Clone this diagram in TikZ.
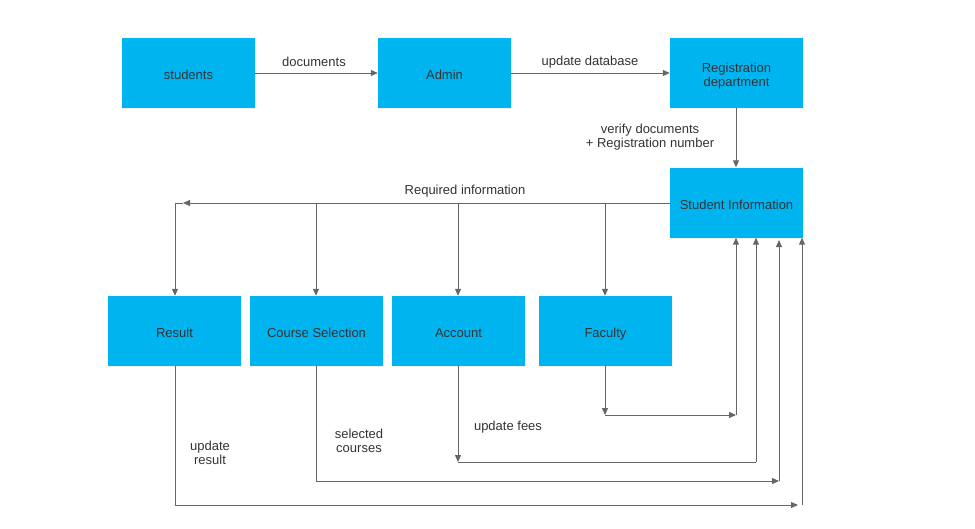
\documentclass[tikz,border=0pt]{standalone}
\usepackage{fontspec}
\setmainfont{Liberation Sans}
\usetikzlibrary{arrows.meta,shadows}
\definecolor{boxblue}{RGB}{0,180,240}
\definecolor{linegray}{RGB}{102,102,102}
\definecolor{txtgray}{RGB}{51,51,51}
\begin{document}
\begin{tikzpicture}[x=1pt,y=-1pt,
  lbl/.style={text=txtgray,font=\fontsize{13}{14.5}\selectfont,align=center,inner sep=0pt},
  box/.style={fill=boxblue,minimum width=133pt,minimum height=70pt,inner sep=0pt,
    drop shadow={shadow xshift=1pt,shadow yshift=-1pt,opacity=0.12},
    label={[lbl,yshift=-3.3pt]center:{\vphantom{Ay}#1}}},
  conn/.style={draw=linegray,line width=1pt},
  arr/.style={conn,-{Triangle[length=7pt,width=6pt]}},
]
\useasboundingbox (0,0) rectangle (975,528);
% boxes
\node[box={students}] (students) at (188.5,73) {};
\node[box={Admin}] (admin) at (444.5,73) {};
\node[box={Registration\\department}] (reg) at (736.5,73) {};
\node[box={Student Information}] (si) at (736.5,202.5) {};
\node[box={Result}] (result) at (174.5,331) {};
\node[box={Course Selection}] (course) at (316.5,331) {};
\node[box={Account}] (account) at (458.5,331) {};
\node[box={Faculty}] (faculty) at (605.5,331) {};
% labels
\node[lbl] (ldoc) at (314,61.5) {documents};
\node[lbl] (lupd) at (590,62) {update database};
\node[lbl] (lver) at (650,137) {verify documents\\+ Registration number};
\node[lbl] (lreq) at (465,191.5) {Required information};
\node[lbl] (lres) at (210,453) {update\\result};
\node[lbl] (lsel) at (359,441) {selected\\courses};
\node[lbl] (lfee) at (508,427.5) {update fees};
% top connectors
\draw[arr] (students.east) -- (admin.west);
\draw[arr] (admin.east) -- (reg.west);
\draw[arr] (reg.south -| 736,0) -- (si.north -| 736,0);
% required information
\coordinate (rA) at (183,203);
\coordinate (rC) at (316,203);
\coordinate (rAc) at (458,203);
\coordinate (rF) at (605,203);
\draw[arr] (si.west |- rA) -- (rA);
\draw[arr] (rA) -| (result.north -| 175,0);
\draw[arr] (rC) -- (course.north -| rC);
\draw[arr] (rAc) -- (account.north -| rAc);
\draw[arr] (rF) -- (faculty.north -| rF);
% faculty -> SI
\coordinate (f1) at (605,415);
\coordinate (f2) at (736,415);
\draw[arr] (faculty.south -| f1) -- (f1);
\draw[arr] (f1) -- (f2);
\draw[arr] (f2) -- (si.south -| f2);
% account -> SI
\coordinate (a1) at (458,462);
\coordinate (a2) at (756,462);
\draw[arr] (account.south -| a1) -- (a1);
\draw[conn] (a1) -- (a2);
\draw[arr] (a2) -- (si.south -| a2);
% course -> SI
\coordinate (c1) at (316,481);
\coordinate (c2) at (779,481);
\coordinate (c3) at (779,240);
\draw[conn] (course.south -| c1) -- (c1);
\draw[arr] (c1) -- (c2);
\draw[arr] (c2) -- (c3);
% result -> SI
\coordinate (r1) at (175,505);
\coordinate (r2) at (798,505);
\coordinate (r3) at (802,505);
\draw[conn] (result.south -| r1) -- (r1);
\draw[arr] (r1) -- (r2);
\draw[arr] (r3) -- (si.south -| r3);
\end{tikzpicture}
\end{document}
